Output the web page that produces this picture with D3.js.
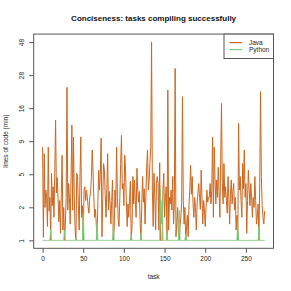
<!DOCTYPE html>
<html><head><meta charset="utf-8">
<script src="https://cdn.jsdelivr.net/npm/d3@7"></script>
<style>
html,body{margin:0;padding:0;background:#fff;}
svg{display:block;font-family:"Liberation Sans",Arial,Helvetica,sans-serif;}
</style></head>
<body><svg id="c" width="291" height="291"></svg>
<script>
const title = "Conciseness: tasks compiling successfully";
const xLabel = "task";
const yLabel = "lines of code (min)";
const seriesNames = ["Java", "Python"];
const seriesColors = ["#CD661D", "#7CCD7C"];
const xTickValues = [0, 50, 100, 150, 200, 250];
const yTickLabels = ["1", "2", "5", "9", "16", "28", "48"];
const yMin = 1, yMax = 48;

const java = [
 8.0, 1.1, 7.1, 2.4, 3.5, 3.0, 1.5, 8.0, 2.2, 3.0,
 1.0, 4.9, 2.5, 3.75, 1.9, 5.0, 12.9, 3.3, 4.5, 3.0,
 1.7, 2.8, 1.24, 3.2, 6.9, 1.36, 2.4, 1.0, 1.6, 3.0,
 22.6, 2.26, 4.0, 3.0, 1.6, 4.5, 11.8, 2.26, 9.6, 3.0,
 1.36, 1.0, 4.9, 4.6, 2.5, 1.36, 4.6, 9.6, 1.9, 2.5,
 1.0, 3.5, 3.75, 2.8, 3.5, 3.0, 2.44, 2.1, 3.0, 3.27,
 4.5, 7.6, 5.2, 3.0, 1.9, 2.3, 1.6, 1.0, 2.7, 5.2,
 3.5, 4.8, 9.4, 1.12, 3.0, 5.9, 5.2, 3.2, 1.9, 3.5,
 7.1, 2.26, 3.4, 2.6, 1.6, 2.8, 4.3, 1.0, 1.36, 3.5,
 2.4, 8.0, 3.0, 1.77, 1.5, 3.0, 5.9, 9.9, 3.6, 4.0,
 2.5, 6.9, 5.2, 2.8, 1.5, 2.6, 1.9, 3.0, 4.2, 1.0,
 1.5, 4.6, 2.6, 4.3, 2.8, 1.9, 5.4, 3.5, 2.7, 3.4,
 1.6, 1.0, 2.7, 4.6, 2.7, 3.6, 1.6, 3.0, 5.5, 7.6,
 3.5, 4.2, 6.0, 8.0, 48, 3.5, 1.5, 4.9, 3.0, 1.36,
 4.0, 4.6, 4.0, 1.36, 6.0, 1.0, 1.0, 1.0, 3.5, 4.9,
 1.9, 3.0, 3.75, 1.0, 21.6, 1.36, 3.0, 2.6, 3.5, 2.26,
 4.6, 1.6, 2.5, 31, 1.12, 1.6, 2.4, 1.24, 1.0, 1.5,
 1.9, 2.7, 19.3, 2.8, 1.6, 2.4, 1.0, 1.5, 2.0, 1.12,
 2.5, 3.5, 5.7, 3.2, 4.6, 2.6, 1.9, 3.0, 2.4, 1.36,
 2.6, 3.3, 4.0, 3.0, 2.3, 5.2, 3.0, 1.6, 2.8, 2.26,
 1.5, 2.4, 3.5, 2.7, 3.0, 3.0, 4.0, 2.6, 3.5, 9.6,
 1.9, 8.0, 4.5, 2.6, 4.3, 3.0, 5.5, 3.4, 1.9, 6.5,
 17.2, 4.0, 2.6, 5.9, 3.0, 3.75, 2.8, 2.1, 4.6, 3.0,
 1.6, 3.2, 4.3, 2.6, 3.4, 4.0, 2.26, 3.0, 1.36, 2.0,
 1.0, 12.2, 3.5, 4.6, 2.8, 1.9, 5.9, 3.6, 7.6, 3.0,
 4.0, 1.24, 2.8, 5.2, 3.5, 2.5, 4.0, 3.0, 1.9, 3.0,
 2.4, 4.6, 2.8, 1.6, 1.9, 2.6, 1.0, 4.0, 21, 4.6,
 2.5, 1.9, 1.6, 2.2
];

const python = [
 1, 1, 1, 1, 1, 1, 1, 1, 1, 1,
 1.39, 1, 1, 1, 1, 1, 1, 1, 1, 1,
 1, 1, 1, 1, 1, 1, 1, 1.36, 1, 1,
 1, 1, 1, 1, 1, 1, 1, 1, 1, 1,
 1, 1.08, 1, 1, 1, 1, 1, 1, 1, 1,
 2.1, 1, 1, 1, 1, 1, 1, 1, 1, 1,
 1, 1, 1, 1, 1, 1, 1, 1.63, 1, 1,
 1, 1, 1, 1, 1, 1, 1, 1, 1, 1,
 1, 1, 1, 1, 1, 1, 1, 1.49, 1, 1,
 1, 1, 1, 1, 1, 1, 1, 1, 1, 1,
 1, 1, 1, 1, 1, 1, 1, 1, 1, 1.18,
 1, 1, 1, 1, 1, 1, 1, 1, 1, 1,
 1, 1.24, 1, 1, 1, 1, 1, 1, 1, 1,
 1, 1, 1, 1, 1, 1, 1, 1, 1, 1,
 1, 1, 1, 1, 1, 3.6, 1.6, 2.8, 1, 1,
 1, 1, 1, 1.24, 1, 1, 1, 1, 1, 1,
 1, 1, 1, 1, 1, 1, 1, 1, 2.26, 1,
 1, 1, 1, 1, 1, 1, 1.2, 1, 1, 1,
 1, 1, 1, 1, 1, 1, 1, 1, 1, 1,
 1, 1, 1, 1, 1, 1, 1, 1, 1, 1,
 1, 1, 1, 1, 1, 1, 1, 1, 1, 1,
 1, 1, 1, 1, 1, 1, 1, 1, 1, 1,
 1, 1, 1, 1, 1, 1, 1, 1, 1, 1,
 1, 1, 1, 1, 1, 1, 1, 1, 1, 1,
 1.7, 1, 1, 1, 1, 1, 1, 1, 1, 1,
 1, 1, 1, 1, 1, 1, 1, 1, 1, 1,
 1, 1, 1, 1, 1, 1, 1.49, 1, 1, 1,
 1, 1, 1, 1
];

const svg = d3.select("#c");
const box = {left: 33.7, right: 273.5, top: 34.1, bottom: 248.3};
const n = java.length;
const xPad = 0.04 * (n - 1);
const x = d3.scaleLinear().domain([0 - xPad, (n - 1) + xPad]).range([box.left, box.right]);
const lo = Math.log1p(yMin), hi = Math.log1p(yMax);
const yPad = 0.04 * (hi - lo);
const y = d3.scaleLinear().domain([lo - yPad, hi + yPad]).range([box.bottom, box.top]);
const yTickPos = yTickLabels.map((_, k) => lo + k * (hi - lo) / (yTickLabels.length - 1));

svg.append("defs").append("clipPath").attr("id", "clip")
  .append("rect").attr("x", box.left).attr("y", box.top)
  .attr("width", box.right - box.left).attr("height", box.bottom - box.top);

const line = d3.line().x((d, i) => x(i)).y(d => y(Math.log1p(d)));
const g = svg.append("g").attr("clip-path", "url(#clip)");
[java, python].forEach((s, k) => {
  g.append("path").datum(s).attr("d", line).attr("fill", "none")
   .attr("stroke", seriesColors[k]).attr("stroke-width", 1).attr("stroke-linejoin", "miter");
});

// box
svg.append("rect").attr("x", box.left).attr("y", box.top)
  .attr("width", box.right - box.left).attr("height", box.bottom - box.top)
  .attr("fill", "none").attr("stroke", "#555").attr("stroke-width", 1);

// x axis
const xAxis = d3.axisBottom(x).tickValues(xTickValues).tickSize(4.5).tickPadding(4);
const gx = svg.append("g").attr("transform", `translate(0,${box.bottom})`).call(xAxis);
gx.select(".domain").remove();
gx.selectAll("line").attr("stroke", "#555");
gx.selectAll("text").attr("font-size", 6.5).attr("fill", "#222")
  .attr("font-family", '"Liberation Sans",Arial,sans-serif');

// y axis
const yAxis = d3.axisLeft(y).tickValues(yTickPos).tickSize(4.5)
  .tickFormat((d, i) => yTickLabels[i]);
const gy = svg.append("g").attr("transform", `translate(${box.left},0)`).call(yAxis);
gy.select(".domain").remove();
gy.selectAll("line").attr("stroke", "#555");
gy.selectAll("text").attr("font-size", 6.5).attr("fill", "#222")
  .attr("font-family", '"Liberation Sans",Arial,sans-serif')
  .attr("x", null).attr("dy", null)
  .attr("text-anchor", "middle")
  .attr("transform", "translate(-9.5,0) rotate(-90)");

// title & labels
svg.append("text").attr("x", (box.left + box.right) / 2).attr("y", 20.5)
  .attr("text-anchor", "middle").attr("font-weight", "bold").attr("font-size", 8)
  .attr("fill", "#111").text(title);
svg.append("text").attr("x", (box.left + box.right) / 2).attr("y", 279.3)
  .attr("text-anchor", "middle").attr("font-size", 6.5).attr("fill", "#222").text(xLabel);
svg.append("text").attr("transform", `translate(8,${(box.top + box.bottom) / 2}) rotate(-90)`)
  .attr("text-anchor", "middle").attr("font-size", 6.5).attr("fill", "#222").text(yLabel);

// legend
const lg = svg.append("g");
lg.append("rect").attr("x", 224).attr("y", box.top).attr("width", box.right - 224).attr("height", 24.4)
  .attr("fill", "#fff").attr("stroke", "#555").attr("stroke-width", 1);
seriesNames.forEach((name, k) => {
  const yy = 42.6 + k * 7;
  lg.append("line").attr("x1", 229.3).attr("x2", 242.3).attr("y1", yy).attr("y2", yy)
    .attr("stroke", seriesColors[k]).attr("stroke-width", 1.2);
  lg.append("text").attr("x", 249).attr("y", yy + 2.3).attr("font-size", 6.5)
    .attr("fill", "#222").text(name);
});
</script></body></html>
